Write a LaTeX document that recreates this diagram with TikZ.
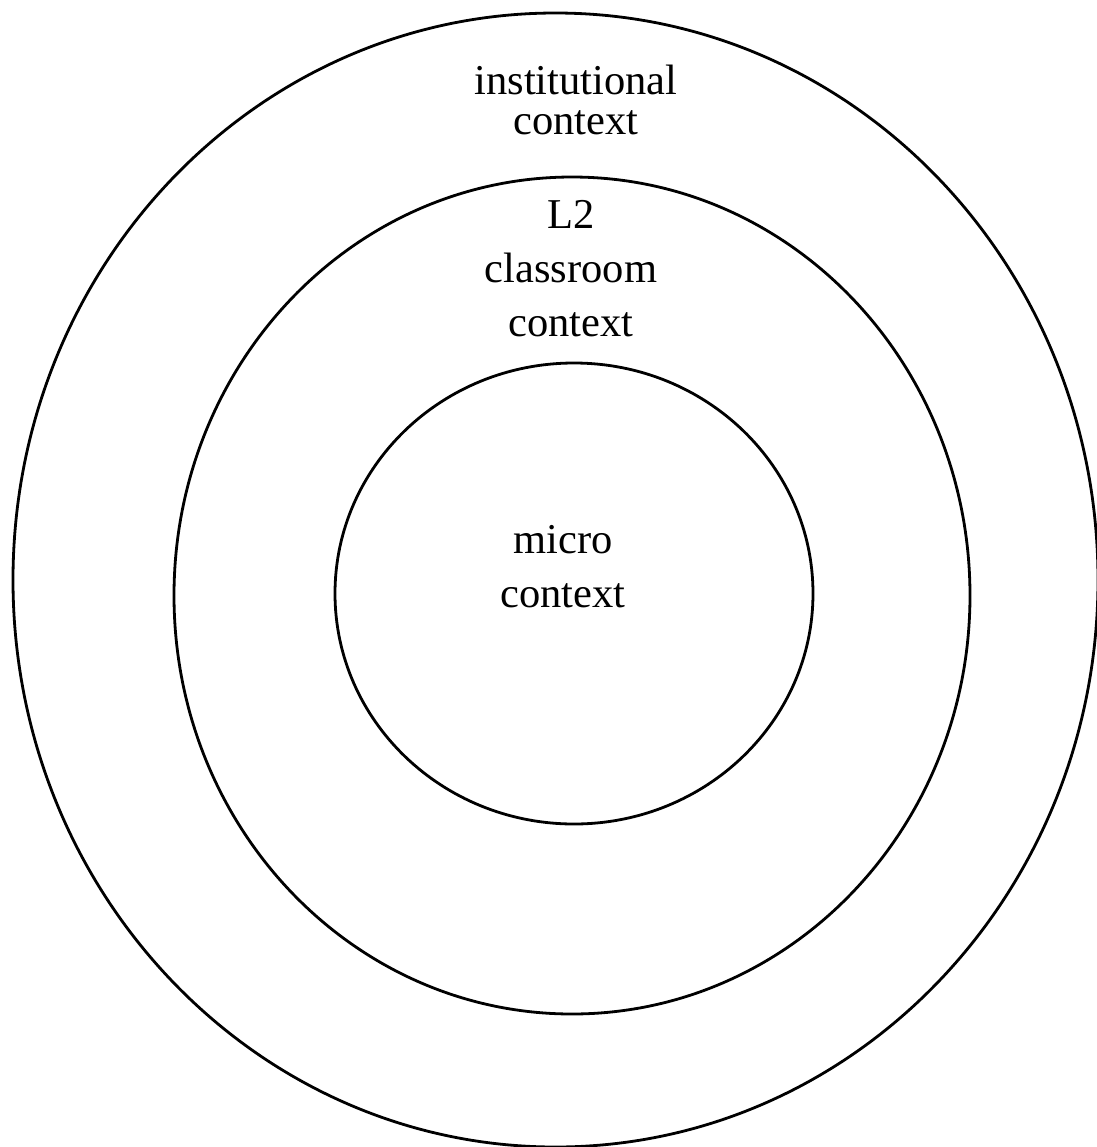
\documentclass[tikz,border=0pt]{standalone}
\usepackage{fontspec}
\setmainfont{Liberation Serif}
\begin{document}
\begin{tikzpicture}[x=0.5pt,y=-0.5pt]
  \tikzset{ring/.style={draw=black, line width=1.4pt}, lbl/.style={align=center, anchor=base, inner sep=0pt, font=\fontsize{21.25}{27}\selectfont}}
  \useasboundingbox (0,0) rectangle (1097,1147);
  \draw[ring] (555.5,580) ellipse [x radius=542.5, y radius=567];
  \draw[ring] (572,595.5) ellipse [x radius=398, y radius=418.5];
  \draw[ring] (574,593.5) ellipse [x radius=239, y radius=230.5];
  % base anchor sits on the last line
  \node[lbl, font=\fontsize{21.25}{20}\selectfont] (inst) at (576,134) {institutional\\context};
  \node[lbl] (class) at (571,336) {L2\\classroom\\context};
  \node[lbl] (micro) at (563,607) {micro\\context};
\end{tikzpicture}
\end{document}
